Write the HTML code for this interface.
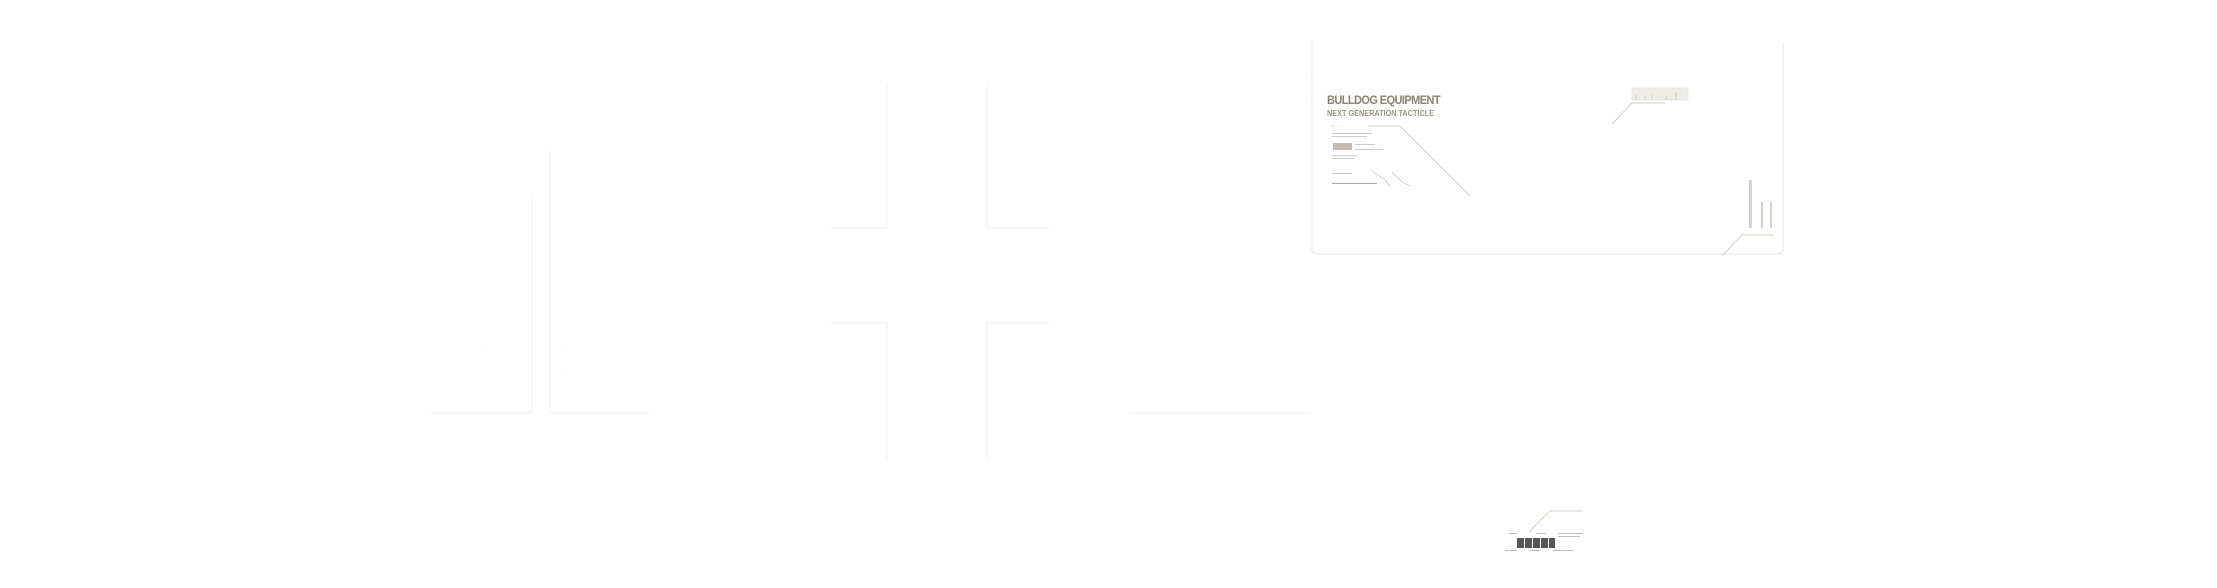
<!DOCTYPE html>
<html><head><style>
html,body{margin:0;padding:0;background:#fff;width:2217px;height:588px;overflow:hidden;font-family:"Liberation Sans",sans-serif}
svg{display:block}
</style></head><body>
<svg width="2217" height="588" viewBox="0 0 2217 588" xmlns="http://www.w3.org/2000/svg">
<g stroke="#f0f0f0" fill="none" stroke-width="1">
<path d="M532 194 L532 410 Q532 413 529 413 L430 413"/>
<path d="M550 150 L550 410 Q550 413 553 413 L650 413"/>
<path d="M887 85 L887 226 Q887 228 885 228 L830 228"/>
<path d="M987 85 L987 226 Q987 228 989 228 L1050 228"/>
<path d="M887 323 L887 460 M887 325 Q887 323 885 323 L830 323"/>
<path d="M987 323 L987 460 M987 325 Q987 323 989 323 L1050 323"/>
<path d="M1130 413 L1310 413"/>
<path d="M1312 42 L1312 250 Q1312 254 1318 254 L1778 254 Q1783 254 1783 248 L1783 42" stroke="#e8e8e8"/>
</g>
<g fill="#ddd" font-size="2">
<text x="1313" y="73" text-anchor="end">··· ···· ·····</text>
<text x="1313" y="100" text-anchor="end">······ ···· ·····</text>
<text x="485" y="352" text-anchor="end">··· ···· ·····</text>
<text x="560" y="352">··· ···· ·····</text>
<text x="560" y="375">······ ····· ·····</text>
</g>
<text x="1327" y="104" font-size="12" font-weight="bold" fill="#8a8270" letter-spacing="-0.6" textLength="113" lengthAdjust="spacingAndGlyphs">BULLDOG EQUIPMENT</text>
<text x="1327" y="116" font-size="8" font-weight="bold" fill="#9a9482" textLength="107" lengthAdjust="spacingAndGlyphs">NEXT GENERATION TACTICLE</text>
<g stroke="#c8c4b8" stroke-width="0.8" fill="none">
<path d="M1368 126 L1400 126 L1470 196"/>
<path d="M1612 124 L1632 103 L1665 103"/>
<path d="M1722 256 L1742 235 L1774 235"/>
<path d="M1529 532 L1550 511 L1583 511"/>
</g>
<text x="1332" y="127" font-size="3" fill="#aaa">T·········</text>
<rect x="1333" y="143" width="19" height="7" fill="#c0bcb4"/>
<g fill="#ccc">
<rect x="1332" y="133" width="40" height="1"/>
<rect x="1332" y="136" width="35" height="1"/>
<rect x="1355" y="144" width="20" height="1"/>
<rect x="1355" y="149" width="28" height="1"/>
<rect x="1332" y="155" width="25" height="1"/>
<rect x="1332" y="158" width="22" height="1"/>
<rect x="1332" y="173" width="20" height="1"/>
<rect x="1332" y="183" width="45" height="1" fill="#aaa"/>
</g>
<g stroke="#bbb" stroke-width="0.6" fill="none">
<path d="M1372 171 L1385 180 L1390 186"/>
<path d="M1392 172 L1402 182 L1410 186"/>
</g>
<rect x="1632" y="88" width="56" height="12" fill="#eeece6" stroke="#ddd" stroke-width="0.5"/>
<g stroke="#b8b4a8" stroke-width="0.6">
<line x1="1636" y1="100" x2="1636" y2="95"/><line x1="1645" y1="100" x2="1645" y2="96"/><line x1="1652" y1="100" x2="1652" y2="95"/><line x1="1666" y1="100" x2="1666" y2="96"/><line x1="1676" y1="100" x2="1676" y2="93"/>
</g>
<g fill="#d4d2cc">
<rect x="1749" y="180" width="3" height="48"/>
<rect x="1761" y="202" width="2" height="26"/>
<rect x="1770" y="202" width="2" height="26"/>
</g>
<g fill="#555">
<rect x="1517" y="538" width="7" height="10"/><rect x="1525" y="538" width="7" height="10"/><rect x="1533" y="538" width="7" height="10"/><rect x="1541" y="538" width="7" height="10"/><rect x="1549" y="538" width="6" height="10"/>
</g>
<g fill="#bbb">
<rect x="1509" y="533" width="8" height="1"/><rect x="1536" y="533" width="10" height="1"/><rect x="1558" y="533" width="25" height="1"/><rect x="1558" y="536" width="22" height="1"/>
<rect x="1505" y="550" width="12" height="1"/><rect x="1530" y="550" width="10" height="1"/><rect x="1553" y="550" width="20" height="1"/>
</g>
</svg>
</body></html>
